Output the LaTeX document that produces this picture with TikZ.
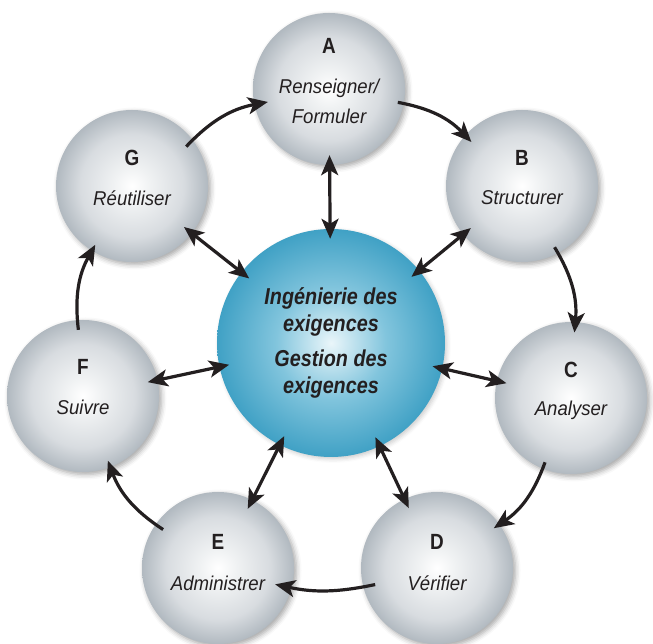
\documentclass[tikz,border=0pt]{standalone}
\usepackage{fontspec}
\setmainfont{Liberation Sans}
\newfontfamily\condfont[FakeStretch=0.86]{Liberation Sans}
\newfontfamily\verbfont[FakeStretch=0.93]{Liberation Sans}
\usetikzlibrary{arrows.meta,shadows.blur,calc}
\definecolor{ink}{HTML}{231F20}
\definecolor{grayedge}{HTML}{B1B9C0}
\definecolor{graymid}{HTML}{D8DCE0}
\definecolor{graylight}{HTML}{F0F2F3}
\definecolor{blueedge}{HTML}{40A1C5}
\definecolor{bluemid}{HTML}{82C5DD}
\definecolor{bluelight}{HTML}{EAF6FA}
\pgfdeclareradialshading{graysphere}{\pgfpoint{0bp}{0bp}}{color(0bp)=(white); color(6bp)=(graylight); color(17bp)=(graymid); color(25bp)=(grayedge); color(50bp)=(grayedge)}
\pgfdeclareradialshading{bluesphere}{\pgfpoint{0bp}{0bp}}{color(0bp)=(bluelight); color(12bp)=(bluemid); color(25bp)=(blueedge); color(50bp)=(blueedge)}
\tikzset{
  sphere/.style={circle, minimum size=152pt, inner sep=0pt, shading=graysphere,
    blur shadow={shadow xshift=2.5pt, shadow yshift=-2.5pt, shadow blur radius=5pt, shadow opacity=35}},
  hub/.style={circle, minimum size=228pt, inner sep=0pt, shading=bluesphere,
    blur shadow={shadow xshift=2pt, shadow yshift=-2pt, shadow blur radius=4pt, shadow opacity=20}},
  letter/.style={font=\condfont\bfseries\fontsize{22}{22}\selectfont, text=ink},
  verb/.style={font=\verbfont\itshape\fontsize{20}{30}\selectfont, text=ink, align=center},
  hubtext/.style={font=\condfont\bfseries\itshape\fontsize{23}{27}\selectfont, text=ink, align=center},
  ring/.style={-{Stealth[length=20pt,width=17pt,inset=5pt]}, line width=3.2pt, draw=ink},
  spoke/.style={{Stealth[length=20pt,width=17pt,inset=5pt]}-{Stealth[length=20pt,width=17pt,inset=5pt]},
    line width=3.2pt, draw=ink, shorten <=-10pt, shorten >=-10pt}
}
\begin{document}
\begin{tikzpicture}[x=1pt,y=1pt]
\useasboundingbox (0,0) rectangle (653,644);
% spheres
\node[hub] (M) at (331,301) {};
\node[sphere] (A) at (329,555) {};
\node[sphere] (B) at (522,458) {};
\node[sphere] (C) at (571,246) {};
\node[sphere] (D) at (437,76) {};
\node[sphere] (E) at (218,76) {};
\node[sphere] (F) at (83,248) {};
\node[sphere] (G) at (132,458) {};
% texts
\node[hubtext] (Mt) at (M.center) {Ingénierie des\\exigences\\[8pt]Gestion des\\exigences};
\node[letter] (Al) at ([yshift=43pt]A.center) {A};
\node[verb] (Av) at ([yshift=-12.5pt]A.center) {Renseigner/\\Formuler};
\node[letter] (Bl) at ([yshift=28pt]B.center) {B};
\node[verb] (Bv) at ([yshift=-12pt]B.center) {Structurer};
\node[letter] (Cl) at ([yshift=28pt]C.center) {C};
\node[verb] (Cv) at ([yshift=-12pt]C.center) {Analyser};
\node[letter] (Dl) at ([yshift=26pt]D.center) {D};
\node[verb] (Dv) at ([yshift=-15pt]D.center) {Vérifier};
\node[letter] (El) at ([yshift=26pt]E.center) {E};
\node[verb] (Ev) at ([yshift=-15pt]E.center) {Administrer};
\node[letter] (Fl) at ([yshift=29pt]F.center) {F};
\node[verb] (Fv) at ([yshift=-11pt]F.center) {Suivre};
\node[letter] (Gl) at ([yshift=28pt]G.center) {G};
\node[verb] (Gv) at ([yshift=-12pt]G.center) {Réutiliser};
% spokes
\foreach \n in {A,B,C,D,E,F,G} \draw[spoke] (\n) -- (M);
% ring
\draw[ring] ($(G)!0.88!(G.36)$) to[bend left=18] ($(A)!0.82!(A.192)$);
\draw[ring] ($(A)!0.92!(A.-11.5)$) to[bend left=18] ($(B)!0.88!(B.139)$);
\draw[ring] ($(B)!0.91!(B.-62)$) to[bend left=18] ($(C)!0.86!(C.87)$);
\draw[ring] ($(C)!0.91!(C.-112)$) to[bend left=18] ($(D)!0.91!(D.35.5)$);
\draw[ring] ($(D)!0.84!(D.195)$) to[bend left=12] ($(E)!0.78!(E.-16.6)$);
\draw[ring] ($(E)!0.88!(E.145)$) to[bend left=18] ($(F)!0.91!(F.-69)$);
\draw[ring] ($(F)!0.87!(F.94)$) to[bend left=18] ($(G)!0.91!(G.238.6)$);
\end{tikzpicture}
\end{document}
